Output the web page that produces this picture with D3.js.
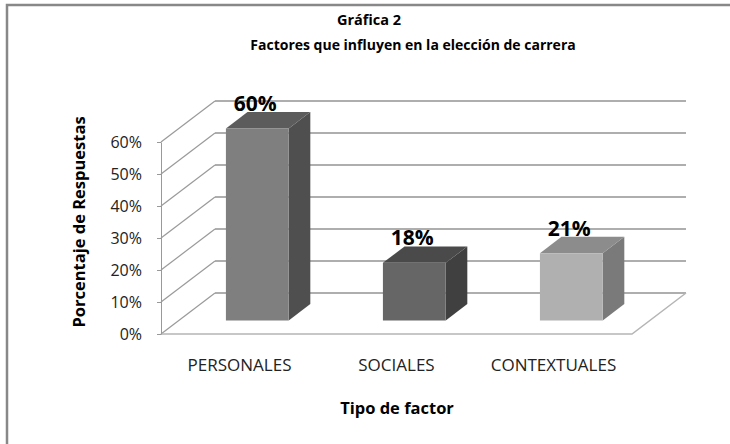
<!DOCTYPE html>
<html>
<head>
<meta charset="utf-8">
<script src="https://cdn.jsdelivr.net/npm/d3@7"></script>
<style>
  body { margin: 0; background: #fff; }
  text { font-family: "Open Sans", "Liberation Sans", sans-serif; fill: #000; }
  .y-axis .domain { stroke: #999; }
  .y-axis .tick line { stroke: #999; }
  .y-axis .tick text { font-size: 16px; fill: #222; }
</style>
</head>
<body>
<div class="chart"></div>
<script>
// data
let categories = ["PERSONALES", "SOCIALES", "CONTEXTUALES"];
let values = [60, 18, 21];
let yTicks = [0, 10, 20, 30, 40, 50, 60];
let frontColors = ["#7f7f7f", "#666666", "#b0b0b0"];
let topColors = ["#5c5c5c", "#4a4a4a", "#8c8c8c"];
let sideColors = ["#4f4f4f", "#404040", "#7a7a7a"];

let width = 730;
let height = 444;

// front plane of the 3d box and its depth shift
let plotLeft = 161, plotRight = 632, floorY = 334, topY = 142;
let depthX = 54, depthY = -41;
let barFront = 0.33, barBack = 0.73;

let svg = d3.select(".chart").append("svg")
    .attr("width", width)
    .attr("height", height);

svg.append("rect")
    .attr("x", 7).attr("y", 5)
    .attr("width", 740).attr("height", 460)
    .attr("fill", "#fff")
    .attr("stroke", "#888")
    .attr("stroke-width", 2.5);

let xScale = d3.scaleBand()
    .domain(categories)
    .range([plotLeft, plotRight])
    .paddingInner(0.6)
    .paddingOuter(0.3);

let yScale = d3.scaleLinear()
    .domain([0, 60])
    .range([floorY, topY]);

// walls: left wall diagonals + back wall horizontals
let grid = svg.append("g").attr("class", "grid");

grid.selectAll(".wall-line")
    .data(yTicks)
    .enter()
    .append("line")
    .attr("x1", plotLeft)
    .attr("y1", d => yScale(d))
    .attr("x2", plotLeft + depthX)
    .attr("y2", d => yScale(d) + depthY)
    .attr("stroke", "#9a9a9a")
    .attr("stroke-width", 1.2);

grid.selectAll(".back-line")
    .data(yTicks)
    .enter()
    .append("line")
    .attr("x1", plotLeft + depthX)
    .attr("y1", d => yScale(d) + depthY)
    .attr("x2", plotRight + depthX)
    .attr("y2", d => yScale(d) + depthY)
    .attr("stroke", "#939393")
    .attr("stroke-width", 1.4);

// floor edges
grid.append("path")
    .attr("d", `M${plotLeft},${yScale(0)} L${plotRight},${yScale(0)} L${plotRight + depthX},${yScale(0) + depthY}`)
    .attr("fill", "none")
    .attr("stroke", "#b5b5b5")
    .attr("stroke-width", 1.5);

// y axis on the front edge of the left wall
svg.append("g")
    .attr("class", "y-axis")
    .attr("transform", `translate(${plotLeft},0)`)
    .call(d3.axisLeft(yScale)
        .tickValues(yTicks)
        .tickFormat(d => d + "%")
        .tickSize(4)
        .tickSizeOuter(0)
        .tickPadding(15));

// bars
let bars = svg.selectAll(".bar")
    .data(categories.map((c, i) => ({ name: c, val: values[i], i: i })))
    .enter()
    .append("g")
    .attr("class", "bar");

function pt(x, v, f) {
    return [x + depthX * f, yScale(v) + depthY * f];
}

bars.each(function(d) {
    let g = d3.select(this);
    let x0 = xScale(d.name);
    let x1 = x0 + xScale.bandwidth();
    let a = pt(x0, 0, barFront), b = pt(x1, 0, barFront);
    let c = pt(x1, d.val, barFront), e = pt(x0, d.val, barFront);
    let bb = pt(x1, 0, barBack), cb = pt(x1, d.val, barBack), eb = pt(x0, d.val, barBack);

    g.append("path")
        .attr("d", `M${b} L${bb} L${cb} L${c}Z`)
        .attr("fill", sideColors[d.i]);
    g.append("path")
        .attr("d", `M${e} L${c} L${cb} L${eb}Z`)
        .attr("fill", topColors[d.i]);
    g.append("path")
        .attr("d", `M${a} L${b} L${c} L${e}Z`)
        .attr("fill", frontColors[d.i]);

    g.append("text")
        .attr("x", (x0 + x1) / 2 + depthX * barFront - 2)
        .attr("y", yScale(d.val) + depthY * barBack - 1)
        .attr("text-anchor", "middle")
        .style("font-size", "21px")
        .style("font-weight", "bold")
        .text(d.val + "%");
});

// category labels
svg.selectAll(".cat-label")
    .data(categories)
    .enter()
    .append("text")
    .attr("x", d => xScale(d) + xScale.bandwidth() / 2)
    .attr("y", 371)
    .attr("text-anchor", "middle")
    .style("font-size", "17px")
    .style("fill", "#222")
    .text(d => d);

// titles
svg.append("text")
    .attr("x", 369).attr("y", 25)
    .attr("text-anchor", "middle")
    .style("font-size", "14.5px")
    .style("font-weight", "bold")
    .text("Gráfica 2");

svg.append("text")
    .attr("x", 413).attr("y", 50)
    .attr("text-anchor", "middle")
    .style("font-size", "14px")
    .style("font-weight", "bold")
    .text("Factores que influyen en la elección de carrera");

svg.append("text")
    .attr("x", 397).attr("y", 414)
    .attr("text-anchor", "middle")
    .style("font-size", "16.5px")
    .style("font-weight", "bold")
    .text("Tipo de factor");

svg.append("text")
    .attr("transform", "translate(85,222) rotate(-90)")
    .attr("text-anchor", "middle")
    .style("font-size", "16.5px")
    .style("font-weight", "bold")
    .text("Porcentaje de Respuestas");
</script>
</body>
</html>
